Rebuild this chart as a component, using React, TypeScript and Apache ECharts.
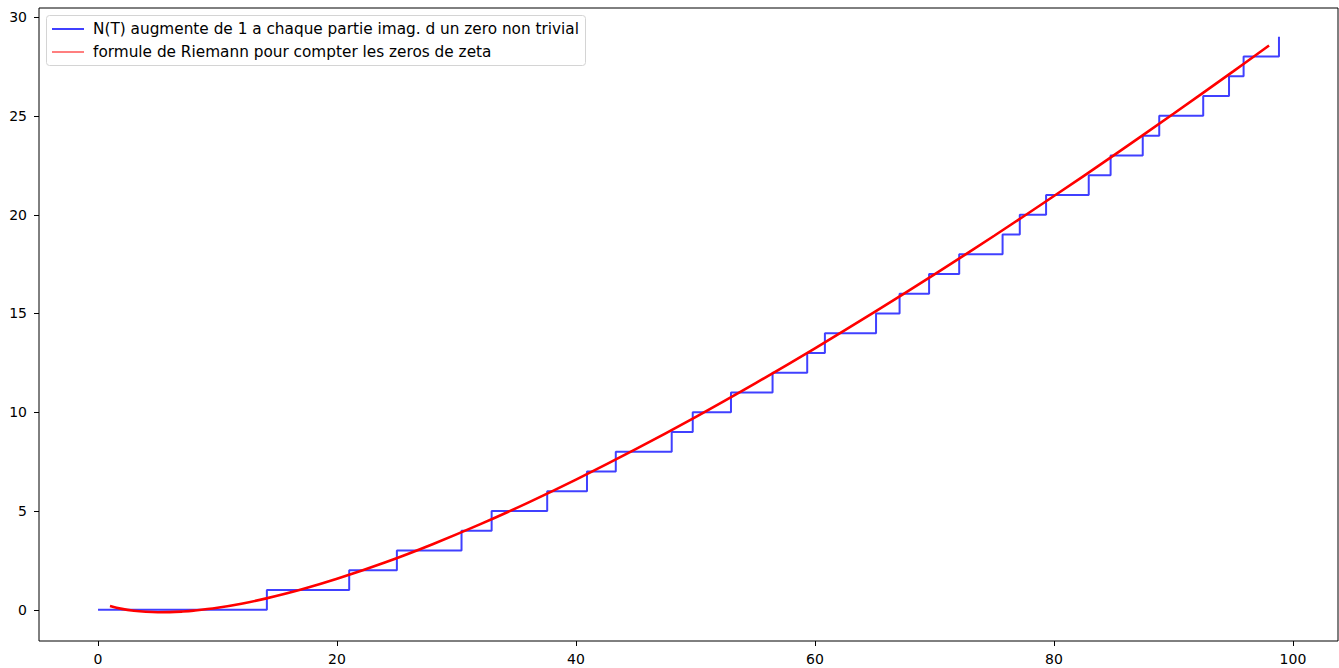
import React, { useEffect, useRef } from "react";
import * as echarts from "echarts";

// Imaginary parts of the first non-trivial zeros of zeta (T < 100)
const zeroHeights = [
  14.13, 21.02, 25.01, 30.42, 32.94, 37.59, 40.92, 43.33, 48.01, 49.77,
  52.97, 56.45, 59.35, 60.83, 65.11, 67.08, 69.55, 72.07, 75.7, 77.14,
  79.34, 82.91, 84.74, 87.43, 88.81, 92.49, 94.65, 95.87, 98.83,
];
const stepX = [0, ...zeroHeights];
const stepCounts = [
  0, 1, 2, 3, 4, 5, 6, 7, 8, 9, 10, 11, 12, 13, 14, 15, 16, 17, 18, 19, 20,
  21, 22, 23, 24, 25, 26, 27, 28, 29,
];

// Riemann's counting curve, sampled
const curveX = [
  1, 2, 3, 4, 5, 6, 7, 8, 10, 12, 14, 17, 20, 24, 28, 32, 36, 40, 45, 50, 55,
  60, 65, 70, 75, 80, 85, 90, 95, 98,
];
const curveY = [
  0.192, 0.045, -0.049, -0.103, -0.124, -0.119, -0.091, -0.043, 0.105, 0.31,
  0.565, 1.025, 1.566, 2.391, 3.319, 4.334, 5.427, 6.589, 8.129, 9.754,
  11.459, 13.234, 15.074, 16.975, 18.932, 20.942, 23.0, 25.105, 27.253,
  28.563,
];

const xTicks = [0, 20, 40, 60, 80, 100];
const yTicks = [0, 5, 10, 15, 20, 25, 30];

const nameSteps = "N(T) augmente de 1 a chaque partie imag. d un zero non trivial";
const nameCurve = "formule de Riemann pour compter les zeros de zeta";

const stepColor = "rgba(0,0,255,0.75)";
const curveColor = "#ff0000";
const curveLegendColor = "rgba(255,0,0,0.5)";

const X_MIN = -4.94;
const X_MAX = 103.77;
const Y_MIN = -1.58;
const Y_MAX = 30.46;

const WIDTH = 1339;
const HEIGHT = 668;
const GRID = { left: 39, top: 8, right: 1, bottom: 27 };
const TICK_LEN = 5;

export default function App() {
  const ref = useRef<HTMLDivElement>(null);

  useEffect(() => {
    if (!ref.current) return;
    const chart = echarts.init(ref.current, null, { renderer: "svg" });
    const font = "DejaVu Sans";
    const legendRows = [
      { name: nameSteps, color: stepColor, y: 29 },
      { name: nameCurve, color: curveLegendColor, y: 52 },
    ];

    // Plot-area edges, used to place the outward tick marks
    const plotLeft = GRID.left;
    const plotRight = WIDTH - GRID.right;
    const plotTop = GRID.top;
    const plotBottom = HEIGHT - GRID.bottom;
    const xToPx = (v: number) =>
      plotLeft + ((v - X_MIN) / (X_MAX - X_MIN)) * (plotRight - plotLeft);
    const yToPx = (v: number) =>
      plotBottom - ((v - Y_MIN) / (Y_MAX - Y_MIN)) * (plotBottom - plotTop);

    const tickGraphics = [
      ...xTicks.map((v) => {
        const x = Math.round(xToPx(v)) + 0.5;
        return {
          type: "line",
          z: 50,
          shape: { x1: x, y1: plotBottom, x2: x, y2: plotBottom + TICK_LEN },
          style: { stroke: "#000000", lineWidth: 1 },
        };
      }),
      ...yTicks.map((v) => {
        const y = Math.round(yToPx(v)) + 0.5;
        return {
          type: "line",
          z: 50,
          shape: { x1: plotLeft - TICK_LEN, y1: y, x2: plotLeft, y2: y },
          style: { stroke: "#000000", lineWidth: 1 },
        };
      }),
    ];

    chart.setOption({
      animation: false,
      backgroundColor: "#ffffff",
      textStyle: { fontFamily: font },
      grid: {
        left: GRID.left,
        top: GRID.top,
        right: GRID.right,
        bottom: GRID.bottom,
        show: true,
        borderColor: "#000000",
        borderWidth: 1,
        backgroundColor: "transparent",
      },
      graphic: [
        ...tickGraphics,
        {
          type: "rect",
          z: 100,
          shape: { x: 46.5, y: 15.5, width: 539, height: 50, r: 3 },
          style: { fill: "rgba(255,255,255,0.8)", stroke: "#d4d4d4", lineWidth: 1 },
        },
        ...legendRows.flatMap((row) => [
          {
            type: "line",
            z: 101,
            shape: { x1: 52, y1: row.y, x2: 84, y2: row.y },
            style: { stroke: row.color, lineWidth: 2 },
          },
          {
            type: "text",
            z: 101,
            x: 93,
            y: row.y,
            style: {
              text: row.name,
              fill: "#000000",
              font: `15.3px "${font}"`,
              verticalAlign: "middle",
              align: "left",
            },
          },
        ]),
      ],
      xAxis: {
        type: "value",
        min: X_MIN,
        max: X_MAX,
        splitLine: { show: false },
        axisLine: { show: false, onZero: false },
        axisTick: { show: false },
        axisLabel: {
          customValues: xTicks,
          color: "#000000",
          fontSize: 14,
          fontFamily: font,
          margin: 11,
        },
      },
      yAxis: {
        type: "value",
        min: Y_MIN,
        max: Y_MAX,
        splitLine: { show: false },
        axisLine: { show: false, onZero: false },
        axisTick: { show: false },
        axisLabel: {
          customValues: yTicks,
          color: "#000000",
          fontSize: 14,
          fontFamily: font,
          margin: 12,
        },
      },
      series: [
        {
          name: nameSteps,
          type: "line",
          step: "end",
          symbol: "none",
          data: stepX.map((x, i) => [x, stepCounts[i]]),
          lineStyle: { color: stepColor, width: 2 },
          itemStyle: { color: stepColor },
          z: 2,
        },
        {
          name: nameCurve,
          type: "line",
          smooth: 0.4,
          symbol: "none",
          data: curveX.map((x, i) => [x, curveY[i]]),
          lineStyle: { color: curveColor, width: 2.6 },
          itemStyle: { color: curveColor },
          z: 3,
        },
      ],
    });
    return () => chart.dispose();
  }, []);

  return (
    <div
      ref={ref}
      style={{ position: "fixed", left: 0, top: 0, width: WIDTH, height: HEIGHT }}
    />
  );
}
